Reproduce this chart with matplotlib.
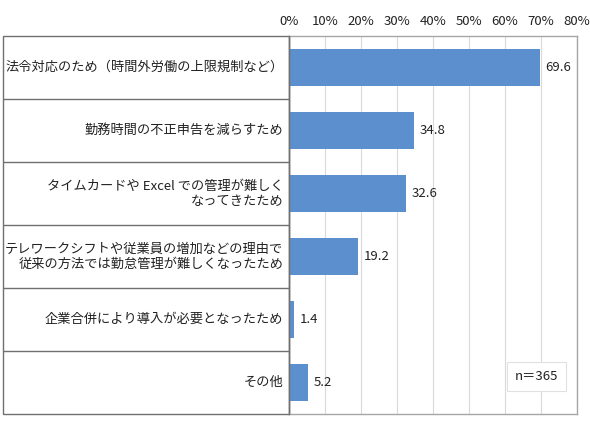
import matplotlib.pyplot as plt
from matplotlib.patches import Rectangle

plt.rcParams['font.family'] = ['Noto Sans CJK JP', 'DejaVu Sans']

# ---------------- Data ----------------
labels = [
    "法令対応のため（時間外労働の上限規制など）",
    "勤務時間の不正申告を減らすため",
    "タイムカードや Excel での管理が難しく\nなってきたため",
    "テレワークシフトや従業員の増加などの理由で\n従来の方法では勤怠管理が難しくなったため",
    "企業合併により導入が必要となったため",
    "その他",
]
values = [69.6, 34.8, 32.6, 19.2, 1.4, 5.2]
ticks = [0, 10, 20, 30, 40, 50, 60, 70, 80]
note = "n＝365"

BAR = "#5B8FCD"
W, H = 590, 424
FS = 9.5

fig = plt.figure(figsize=(W / 100, H / 100), dpi=100)
left, right, top, bottom = 289, 577, 36, 414
ax = fig.add_axes([left / W, 1 - bottom / H, (right - left) / W, (bottom - top) / H])

ypos = list(range(len(values)))
ax.barh(ypos, values, height=0.58, color=BAR, zorder=3)
for y, v in zip(ypos, values):
    ax.annotate(f"{v:.1f}", (v, y), xytext=(4, 0), textcoords="offset points",
                va="center", ha="left", fontsize=FS, color="#222222")

ax.set_xlim(0, 80)
ax.set_ylim(len(values) - 0.5, -0.5)
ax.set_xticks(ticks)
ax.set_xticklabels([f"{t}%" for t in ticks], fontsize=FS, color="#222222")
ax.xaxis.tick_top()
ax.tick_params(axis="x", length=0, pad=6)
ax.set_yticks([])
ax.grid(axis="x", color="#D9D9D9", linewidth=0.8, zorder=0)
for s in ["top", "right", "bottom"]:
    ax.spines[s].set_color("#A6A6A6")
    ax.spines[s].set_linewidth(1.0)
ax.spines["left"].set_color("#404040")
ax.spines["left"].set_linewidth(1.0)

# left table with category labels
tx = 3
tab = fig.add_axes([tx / W, 1 - bottom / H, (left - tx) / W, (bottom - top) / H])
tab.set_xlim(0, 1)
tab.set_ylim(len(values) - 0.5, -0.5)
tab.axis("off")
tab.add_patch(Rectangle((0, -0.5), 1, len(values), fill=False, edgecolor="#707070",
                        linewidth=1.0, clip_on=False))
for i in range(1, len(values)):
    tab.axhline(i - 0.5, color="#707070", linewidth=1.0)
for y, lab in zip(ypos, labels):
    tab.text(0.98, y, lab, ha="right", va="center", fontsize=FS, color="#222222",
             linespacing=1.2)

# sample size box
ax.text(0.86, 0.1, note, transform=ax.transAxes, ha="center", va="center",
        fontsize=FS, color="#222222",
        bbox=dict(boxstyle="square,pad=0.6", facecolor="white", edgecolor="#E0E0E0",
                  linewidth=0.8), zorder=4)

fig.savefig("out.png", dpi=100)
